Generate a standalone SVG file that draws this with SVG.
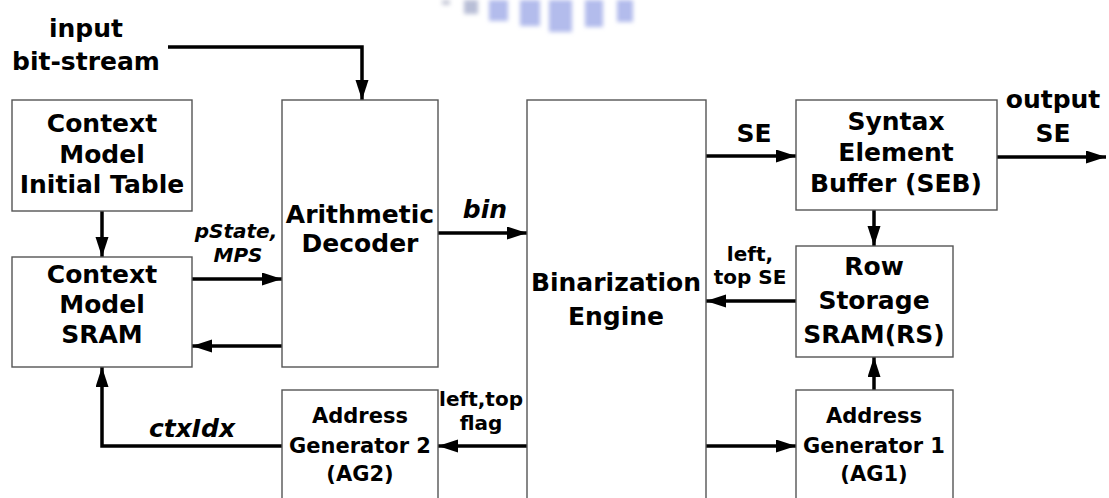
<svg xmlns="http://www.w3.org/2000/svg" width="1109" height="498" viewBox="0 0 1109 498">
<style>
.box{fill:#fff;stroke:#555;stroke-width:1.4}
.c{fill:none;stroke:#000;stroke-width:3.5}
.a{marker-end:url(#ah)}
text{font-family:"DejaVu Sans","Liberation Sans",sans-serif;font-weight:bold;fill:#000}
.big{font-size:25px;text-anchor:middle}
.mid{font-size:21px;text-anchor:middle}
.sm{font-size:20px;text-anchor:middle}
.it{font-style:italic}
.wm{fill:#9aa6e6;opacity:0.75}
</style>
<defs>
<marker id="ah" markerUnits="userSpaceOnUse" markerWidth="22" markerHeight="14" refX="20" refY="6.5" orient="auto">
<path d="M0,0 L20,6.5 L0,13 Z" fill="#000"/>
</marker>
<filter id="blur" x="-50%" y="-50%" width="200%" height="200%"><feGaussianBlur stdDeviation="2"/></filter>
</defs>
<g id="watermark" filter="url(#blur)">
<rect x="442" y="0" width="8" height="5" fill="#b0b4c8" opacity="0.7"/>
<rect x="464" y="0" width="14" height="14" class="wm" style="fill:#a0a8c8"/>
<rect x="489" y="0" width="19" height="21" class="wm"/>
<rect x="520" y="0" width="20" height="26" class="wm"/>
<rect x="549" y="0" width="23" height="32" class="wm"/>
<rect x="585" y="0" width="18" height="27" class="wm"/>
<rect x="617" y="0" width="16" height="22" class="wm"/>
</g>
<g id="connectors">
<polyline class="c a" points="168,47 362,47 362,100"/>
<line class="c a" x1="102" y1="211" x2="102" y2="257"/>
<line class="c a" x1="192" y1="279" x2="282" y2="279"/>
<line class="c a" x1="282" y1="346" x2="192" y2="346"/>
<line class="c a" x1="438" y1="233" x2="527" y2="233"/>
<line class="c a" x1="706" y1="156" x2="796" y2="156"/>
<line class="c a" x1="997" y1="157" x2="1106" y2="157"/>
<line class="c a" x1="874" y1="210" x2="874" y2="246"/>
<line class="c a" x1="796" y1="301" x2="706" y2="301"/>
<line class="c a" x1="874" y1="390" x2="874" y2="357"/>
<line class="c a" x1="706" y1="446" x2="796" y2="446"/>
<line class="c a" x1="527" y1="446" x2="438" y2="446"/>
<polyline class="c a" points="282,446 102,446 102,367"/>
</g>
<g id="labels">
<text class="big" x="86" y="37">input</text>
<text class="big" x="86" y="70">bit-stream</text>
<text class="big" x="1053" y="108">output</text>
<text class="big" x="1053" y="142">SE</text>
<text class="big" x="754" y="142">SE</text>
<text class="sm it" x="236" y="238">pState,</text>
<text class="sm it" x="238" y="262">MPS</text>
<text class="big it" x="485" y="218">bin</text>
<text class="sm" x="750" y="261">left,</text>
<text class="sm" x="750" y="284">top SE</text>
<text class="sm" x="481" y="406">left,top</text>
<text class="sm" x="481" y="430">flag</text>
<text class="big it" x="192" y="437">ctxIdx</text>
</g>
<g id="cm-init">
<rect class="box" x="12" y="100" width="180" height="111"/>
<text class="big" x="102" y="132">Context</text>
<text class="big" x="102" y="163">Model</text>
<text class="big" x="102" y="193">Initial Table</text>
</g>
<g id="cm-sram">
<rect class="box" x="12" y="257" width="180" height="110"/>
<text class="big" x="102" y="283">Context</text>
<text class="big" x="102" y="313">Model</text>
<text class="big" x="102" y="343">SRAM</text>
</g>
<g id="arith">
<rect class="box" x="282" y="100" width="156" height="267"/>
<text class="big" x="360" y="223">Arithmetic</text>
<text class="big" x="360" y="252">Decoder</text>
</g>
<g id="binar">
<rect class="box" x="527" y="100" width="179" height="410"/>
<text class="big" x="616" y="291">Binarization</text>
<text class="big" x="616" y="325">Engine</text>
</g>
<g id="seb">
<rect class="box" x="796" y="100" width="201" height="110"/>
<text class="big" x="896" y="130">Syntax</text>
<text class="big" x="896" y="161">Element</text>
<text class="big" x="896" y="192">Buffer (SEB)</text>
</g>
<g id="rs">
<rect class="box" x="796" y="246" width="157" height="111"/>
<text class="big" x="874" y="275">Row</text>
<text class="big" x="874" y="309">Storage</text>
<text class="big" x="874" y="343">SRAM(RS)</text>
</g>
<g id="ag1">
<rect class="box" x="796" y="390" width="157" height="120"/>
<text class="mid" x="874" y="423">Address</text>
<text class="mid" x="874" y="453">Generator 1</text>
<text class="mid" x="874" y="481">(AG1)</text>
</g>
<g id="ag2">
<rect class="box" x="282" y="390" width="156" height="120"/>
<text class="mid" x="360" y="423">Address</text>
<text class="mid" x="360" y="453">Generator 2</text>
<text class="mid" x="360" y="481">(AG2)</text>
</g>
</svg>
